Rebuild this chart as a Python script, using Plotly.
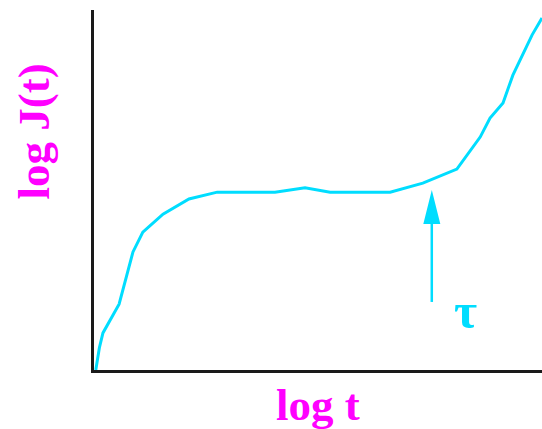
import plotly.graph_objects as go

# Creep compliance curve: log J(t) versus log t (arbitrary units)
log_t = [0.04, 0.08, 0.12, 0.20, 0.56, 0.87, 1.09, 1.54, 2.12, 2.75, 4.04, 4.71, 5.27,
         6.61, 7.34, 8.10, 8.39, 8.62, 8.84, 9.13, 9.35, 9.78, 10.0]
log_J = [0.0, 0.35, 0.62, 1.03, 1.83, 3.28, 3.83, 4.33, 4.75, 4.94, 4.94, 5.06, 4.94,
         4.94, 5.19, 5.58, 6.06, 6.47, 7.00, 7.42, 8.19, 9.31, 9.78]

# Marker arrow for the characteristic time tau
tau_x = 7.54
tau_tip = 5.0
tau_tail = 1.89
tau_label = "τ"

CYAN = "#00DDFF"
MAGENTA = "#FF00FF"
SERIF = "Liberation Serif, Times New Roman, serif"

fig = go.Figure()
fig.add_trace(go.Scatter(x=log_t, y=log_J, mode="lines",
                         line=dict(color=CYAN, width=3), hoverinfo="skip"))

# arrow shaft
fig.add_shape(type="line", x0=tau_x, x1=tau_x, y0=tau_tail, y1=tau_tip - 0.5,
              line=dict(color=CYAN, width=2.5))
# arrow head, sized in pixels around the tip
fig.add_shape(type="path", xref="x", yref="y", xsizemode="pixel", ysizemode="pixel",
              xanchor=tau_x, yanchor=tau_tip,
              path="M0,0 L-8.5,-34 L8.5,-34 Z",
              fillcolor=CYAN, line=dict(color=CYAN, width=0))

fig.add_annotation(x=8.3, y=1.63, text="<b>" + tau_label + "</b>", showarrow=False,
                   xanchor="center", yanchor="middle",
                   font=dict(family=SERIF, size=50, color=CYAN))

fig.add_annotation(x=0.501, y=-0.097, xref="paper", yref="paper", text="<b>log t</b>",
                   xanchor="center", yanchor="middle", showarrow=False,
                   font=dict(family=SERIF, size=45, color=MAGENTA))
fig.add_annotation(x=-0.134, y=0.6625, xref="paper", yref="paper", text="<b>log J(t)</b>",
                   textangle=-90, xanchor="center", yanchor="middle", showarrow=False,
                   font=dict(family=SERIF, size=45, color=MAGENTA))

fig.update_xaxes(range=[0, 10], showgrid=False, zeroline=False, showticklabels=False,
                 ticks="", showline=True, linecolor="#1a1a1a", linewidth=3)
fig.update_yaxes(range=[0, 10], showgrid=False, zeroline=False, showticklabels=False,
                 ticks="", showline=True, linecolor="#1a1a1a", linewidth=3)

fig.update_layout(width=542, height=429, showlegend=False,
                  margin=dict(l=94, r=0, t=10, b=59),
                  paper_bgcolor="white", plot_bgcolor="white")

fig.write_html("out.html")
